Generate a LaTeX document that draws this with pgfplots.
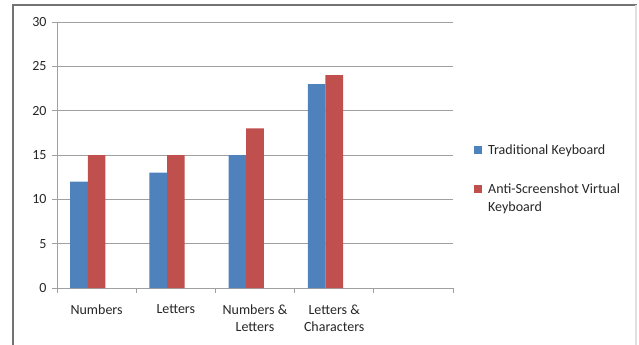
\documentclass[border=0pt]{standalone}
\usepackage{pgfplots}
\pgfplotsset{compat=1.18}
\usepackage{fontspec}
\setmainfont{Carlito}
\definecolor{exblue}{HTML}{4F81BD}
\definecolor{exred}{HTML}{C0504D}
\definecolor{gridc}{HTML}{A0A0A0}
\definecolor{txt}{HTML}{262626}
\pgfplotsset{
  bluelegend/.style={legend image code/.code={\fill[exblue] (0bp,0.5bp) rectangle (8bp,8.5bp);}},
  redlegend/.style={legend image code/.code={\fill[exred] (0bp,18.5bp) rectangle (8bp,26.5bp);}},
}
\begin{document}
\begin{tikzpicture}[x=1bp,y=1bp]
\useasboundingbox (0,0) rectangle (639,344);
\draw[color=black!55, line width=1.3bp] (13,-5) -- (13,339) -- (637,339);
\draw[black!12, line width=2bp] (636,339) -- (636,-5);
\begin{axis}[
  at={(57bp,56bp)}, anchor=south west,
  scale only axis, width=396bp, height=266bp,
  xmin=-0.5, xmax=4.5, ymin=0, ymax=30,
  ytick={0,5,...,30},
  xtick={0,1,2,3},
  xticklabels={Numbers, Letters, {Numbers \&\\Letters}, {Letters \&\\Characters}},
  minor xtick={-0.5,0.5,...,4.5},
  major x tick style={draw=none},
  minor tick length=5bp, major tick length=5bp,
  tick align=outside,
  axis x line*=bottom, axis y line*=left,
  axis line style={gridc, line width=0.8bp},
  ymajorgrids, grid style={gridc, line width=0.8bp},
  tick style={gridc, line width=0.8bp},
  /pgf/number format/assume math mode=true,
  tick label style={font=\fontsize{14bp}{17bp}\selectfont, text=txt},
  xticklabel style={align=center, yshift=-8bp},
  yticklabel style={xshift=-2bp},
  ybar, bar width=0.2222,
  legend style={at={(axis description cs:1.053,0.545)}, anchor=north west, draw=none, fill=none,
    font=\fontsize{14bp}{18bp}\selectfont, text=txt, inner sep=0pt,
    row sep=23bp, column sep=4bp, cells={anchor=base west, align=left}},
]
\addplot[fill=exblue, draw=none, bar shift=-0.2222, bluelegend] coordinates {(0,12) (1,13) (2,15) (3,23)};
\addplot[fill=exred, draw=none, bar shift=0, redlegend] coordinates {(0,15) (1,15) (2,18) (3,24)};
\legend{Traditional Keyboard, {Anti-Screenshot Virtual\\Keyboard}}
\end{axis}
\end{tikzpicture}
\end{document}
